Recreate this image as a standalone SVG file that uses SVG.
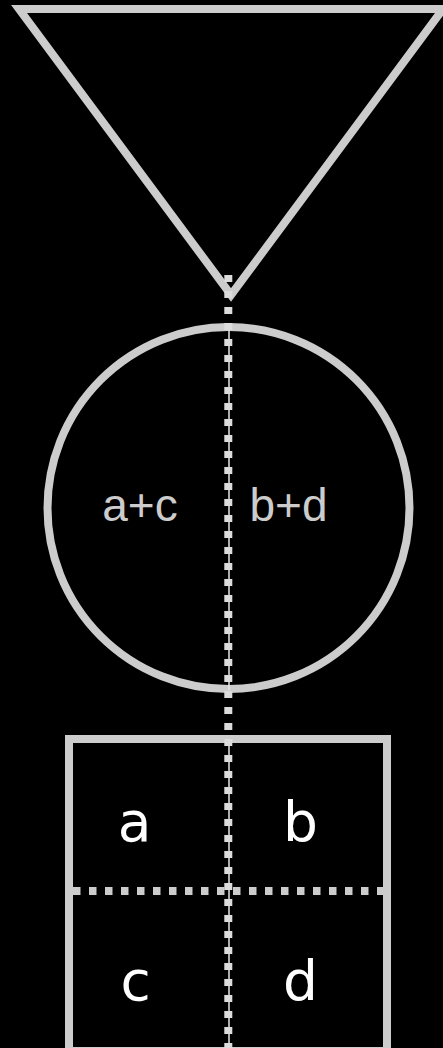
<svg xmlns="http://www.w3.org/2000/svg" width="443" height="1048" viewBox="0 0 443 1048">
<style>
.shape{fill:none;stroke:#cccccc;stroke-width:8;stroke-miterlimit:10}
.sum{font-family:"Liberation Sans",Arial,sans-serif;font-size:46px;fill:#cccccc;text-anchor:middle}
.cell{font-family:"Comic Sans MS","DejaVu Sans",sans-serif;font-size:55px;fill:#ffffff;text-anchor:middle}
.thin{stroke:#e6e6e6;stroke-width:1.5;fill:none}
.dash{stroke:#dcdcdc;stroke-width:8;fill:none;stroke-dasharray:7 9}
</style>
<rect x="0" y="0" width="443" height="1048" fill="#000000"/>
<g id="triangle">
<polygon class="shape" points="19,9 443,9 231,295"/>
</g>
<g id="circle">
<circle class="shape" cx="228.5" cy="508" r="181"/>
<line class="thin" x1="229" y1="326" x2="229" y2="690"/>
<text class="sum" x="140" y="521">a+c</text>
<text class="sum" x="288.5" y="521">b+d</text>
</g>
<g id="square">
<rect class="shape" x="69" y="739" width="318" height="312"/>
<line class="thin" x1="229" y1="739" x2="229" y2="1048"/>
<text class="cell" x="134.5" y="841">a</text>
<text class="cell" x="300.5" y="841">b</text>
<text class="cell" x="135.5" y="1000">c</text>
<text class="cell" x="300.5" y="1000">d</text>
</g>
<g id="connectors">
<line class="dash" x1="73" y1="891" x2="383" y2="891" style="stroke:#cccccc;stroke-dasharray:7.5 8.5"/>
<line class="dash" x1="228.3" y1="275" x2="228.3" y2="1048"/>
</g>
</svg>
